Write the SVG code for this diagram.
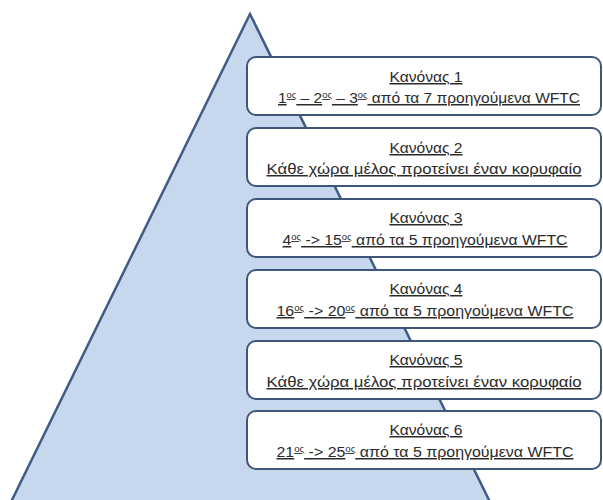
<svg xmlns="http://www.w3.org/2000/svg" width="603" height="500" viewBox="0 0 603 500">
<style>
.box{fill:#ffffff;stroke:#3d5679;stroke-width:2}
.t{font-family:"Liberation Sans","Noto Sans",sans-serif;font-size:15px;fill:#2b2b2b;text-anchor:middle;text-decoration:underline}
.sup{font-size:9px}
</style>
<rect width="603" height="500" fill="#ffffff"/>
<polygon id="pyramid" points="250,14 11,502 490,502" fill="#c6d7ee" stroke="#3f5c86" stroke-width="2.5" stroke-linejoin="miter"/>
<g id="rule1">
<rect class="box" x="247" y="57" width="354" height="58" rx="9"/>
<text class="t" x="426" y="82" textLength="73" lengthAdjust="spacingAndGlyphs">Κανόνας 1</text>
<text class="t" x="429" y="103" textLength="302" lengthAdjust="spacingAndGlyphs">1<tspan class="sup" dy="-5">ος</tspan><tspan dy="5"> – 2</tspan><tspan class="sup" dy="-5">ος</tspan><tspan dy="5"> – 3</tspan><tspan class="sup" dy="-5">ος</tspan><tspan dy="5">  από τα 7 προηγούμενα WFTC</tspan></text>
</g>
<g id="rule2">
<rect class="box" x="247" y="128" width="354" height="58" rx="9"/>
<text class="t" x="426" y="153" textLength="73" lengthAdjust="spacingAndGlyphs">Κανόνας 2</text>
<text class="t" x="424" y="174" textLength="315" lengthAdjust="spacingAndGlyphs">Κάθε χώρα μέλος προτείνει έναν κορυφαίο</text>
</g>
<g id="rule3">
<rect class="box" x="247" y="199" width="354" height="58" rx="9"/>
<text class="t" x="426" y="223" textLength="73" lengthAdjust="spacingAndGlyphs">Κανόνας 3</text>
<text class="t" x="425" y="245" textLength="285" lengthAdjust="spacingAndGlyphs">4<tspan class="sup" dy="-5">ος</tspan><tspan dy="5"> -&gt; 15</tspan><tspan class="sup" dy="-5">ος</tspan><tspan dy="5">  από τα 5 προηγούμενα WFTC</tspan></text>
</g>
<g id="rule4">
<rect class="box" x="247" y="270" width="354" height="58" rx="9"/>
<text class="t" x="426" y="294" textLength="73" lengthAdjust="spacingAndGlyphs">Κανόνας 4</text>
<text class="t" x="425" y="316" textLength="297" lengthAdjust="spacingAndGlyphs">16<tspan class="sup" dy="-5">ος</tspan><tspan dy="5">  -&gt; 20</tspan><tspan class="sup" dy="-5">ος</tspan><tspan dy="5">  από τα 5 προηγούμενα WFTC</tspan></text>
</g>
<g id="rule5">
<rect class="box" x="247" y="341" width="354" height="58" rx="9"/>
<text class="t" x="426" y="365" textLength="73" lengthAdjust="spacingAndGlyphs">Κανόνας 5</text>
<text class="t" x="424" y="387" textLength="315" lengthAdjust="spacingAndGlyphs">Κάθε χώρα μέλος προτείνει έναν κορυφαίο</text>
</g>
<g id="rule6">
<rect class="box" x="247" y="411" width="354" height="58" rx="9"/>
<text class="t" x="426" y="435" textLength="73" lengthAdjust="spacingAndGlyphs">Κανόνας 6</text>
<text class="t" x="425" y="457" textLength="297" lengthAdjust="spacingAndGlyphs">21<tspan class="sup" dy="-5">ος</tspan><tspan dy="5">  -&gt; 25</tspan><tspan class="sup" dy="-5">ος</tspan><tspan dy="5">  από τα 5 προηγούμενα WFTC</tspan></text>
</g>
<g id="connectors"></g>
</svg>
